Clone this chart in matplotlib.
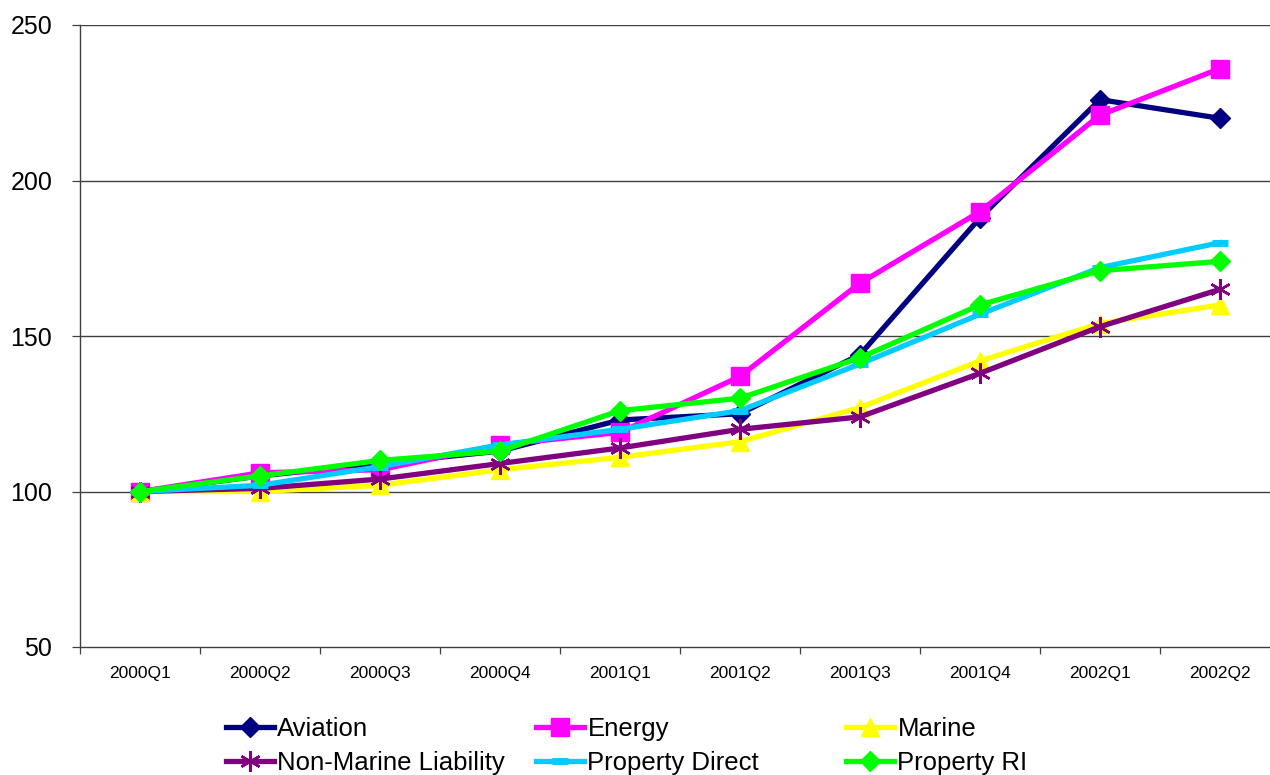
import matplotlib
matplotlib.use("Agg")
import matplotlib.pyplot as plt

plt.rcParams['font.family'] = ['Liberation Sans', 'DejaVu Sans']

quarters = ['2000Q1', '2000Q2', '2000Q3', '2000Q4', '2001Q1',
            '2001Q2', '2001Q3', '2001Q4', '2002Q1', '2002Q2']
aviation = [100, 105, 109, 113, 123, 125, 144, 188, 226, 220]
energy = [100, 106, 107, 115, 119, 137, 167, 190, 221, 236]
marine = [100, 100, 102, 107, 111, 116, 127, 142, 154, 160]
non_marine_liability = [100, 101, 104, 109, 114, 120, 124, 138, 153, 165]
property_direct = [100, 102, 108, 115, 120, 126, 141, 157, 172, 180]
property_ri = [100, 105, 110, 113, 126, 130, 143, 160, 171, 174]
y_ticks = [50, 100, 150, 200, 250]

series = [
    ('Aviation', aviation, '#000080', dict(marker='D', ms=10)),
    ('Energy', energy, '#FF00FF', dict(marker='s', ms=12.5)),
    ('Marine', marine, '#FFFF00', dict(marker='^', ms=13.5)),
    ('Non-Marine Liability', non_marine_liability, '#800080',
     dict(marker=(6, 2, 0), ms=15, mew=1.8)),
    ('Property Direct', property_direct, '#00CCFF',
     dict(marker='_', ms=11, mew=5)),
    ('Property RI', property_ri, '#00FF00', dict(marker='D', ms=10)),
]

fig = plt.figure(figsize=(12.7, 7.75), dpi=100)
ax = fig.add_axes([80 / 1270, 128 / 775, 1200 / 1270, 622 / 775])

x = list(range(len(quarters)))
handles = []
for name, vals, color, mk in series:
    kw = dict(mfc=color, mec=color, mew=1)
    kw.update(mk)
    line, = ax.plot(x, vals, color=color, lw=3.8, label=name,
                    solid_joinstyle='miter', clip_on=False, **kw)
    handles.append(line)

ax.set_xlim(-0.5, len(quarters) - 0.5)
ax.set_ylim(50, 250)
ax.set_yticks(y_ticks)
ax.set_yticklabels([str(v) for v in y_ticks])
ax.set_xticks(x)
ax.set_xticklabels(quarters)
ax.set_xticks([i - 0.5 for i in range(len(quarters) + 1)], minor=True)

ax.tick_params(axis='x', which='major', length=0, pad=14, labelsize=12.5)
ax.tick_params(axis='x', which='minor', length=5, width=0.9,
               direction='out', color='#404040')
ax.tick_params(axis='y', which='major', length=6, width=0.9,
               direction='out', pad=14, labelsize=18, color='#404040')

for gy in y_ticks[1:]:
    ax.axhline(gy, color='#404040', lw=1.0, zorder=0)

ax.spines['top'].set_visible(False)
ax.spines['right'].set_visible(False)
ax.spines['left'].set_color('#404040')
ax.spines['left'].set_linewidth(1.0)
ax.spines['bottom'].set_color('#404040')
ax.spines['bottom'].set_linewidth(1.0)

# Legend laid out as three fixed columns of two rows
columns = [[handles[0], handles[3]], [handles[1], handles[4]],
           [handles[2], handles[5]]]
col_x = [226 / 1270, 536 / 1270, 846 / 1270]
for hs, cx in zip(columns, col_x):
    fig.legend(handles=hs, labels=[h.get_label() for h in hs],
               loc='upper left', bbox_to_anchor=(cx, 58 / 775),
               frameon=False, fontsize=18.5, handlelength=1.85,
               handletextpad=0.15, labelspacing=0.4, borderpad=0,
               borderaxespad=0, numpoints=1)

fig.savefig('out.png', dpi=100)
